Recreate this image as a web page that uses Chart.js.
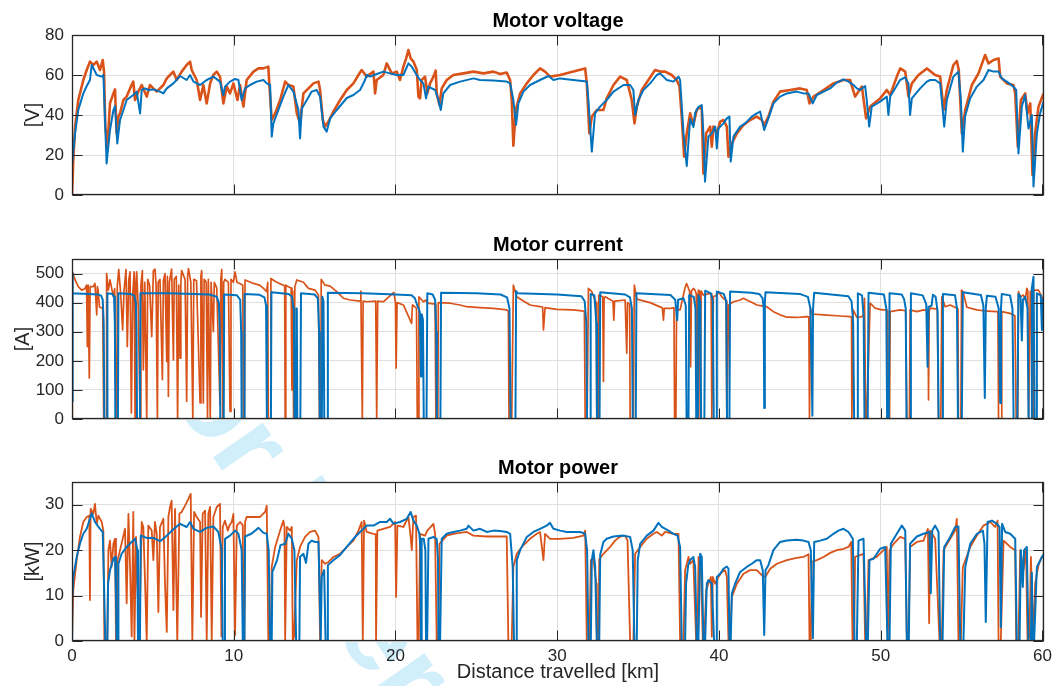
<!DOCTYPE html>
<html>
<head>
<meta charset="utf-8">
<script src="https://cdn.jsdelivr.net/npm/chart.js@4.4.0/dist/chart.umd.min.js"></script>
<style>
  html, body { margin: 0; background: #fff; }
  #wrap { position: relative; width: 1052px; height: 686px; overflow: hidden; }
  #wrap canvas { position: absolute; left: 0; top: 0; }
</style>
</head>
<body>
<div id="wrap">
  <canvas id="mark" width="1052" height="686"></canvas>
  <canvas id="voltage" width="1052" height="686"></canvas>
  <canvas id="current" width="1052" height="686"></canvas>
  <canvas id="power" width="1052" height="686"></canvas>
</div>
<script>
const FONT = "'Liberation Sans', Arial, Helvetica, sans-serif"
const INK = "#262626"
const GRID = "#dfdfdf"
const BLUE = "#0072BD"
const ORANGE = "#D95319"

const distanceTicks = [0, 10, 20, 30, 40, 50, 60]
const voltageTicks = [0, 20, 40, 60, 80]
const currentTicks = [0, 100, 200, 300, 400, 500]
const powerTicks = [0, 10, 20, 30]

// [distance km, value] pairs
const voltageModel = [[0,15],[0.19,30.8],[0.39,42.5],[0.70,50.8],[0.91,54.5],[1.11,57.5],[1.22,65],[1.53,60],[1.84,59.2],[1.94,60],
  [2.14,15.8],[2.35,32.5],[2.56,42.5],[2.66,44.5],[2.80,25.8],[2.97,37.5],[3.18,42.5],[3.38,47.5],[3.79,50],[4.00,51.7],
  [4.21,40.8],[4.31,52.5],[4.52,53.3],[4.72,52.5],[5.03,52.8],[5.44,51.7],[5.65,50.8],[5.86,53.3],[6.27,55.8],[6.68,59.5],
  [7.09,57.5],[7.30,60],[7.51,56.7],[7.92,55],[8.33,57.5],[8.74,59.2],[9.15,56.7],[9.36,50],[9.46,54.2],[9.77,56.7],
  [10.08,58],[10.29,57.5],[10.49,47.5],[10.70,53.3],[11.01,55],[11.42,56.7],[11.84,57.5],[12.04,55.8],[12.25,55],[12.35,29.2],
  [12.45,35.8],[12.76,42.5],[13.07,49.2],[13.38,55],[13.69,51.7],[14.00,42.5],[14.10,28.3],[14.21,43.3],[14.52,47.5],[14.82,51.7],
  [15.13,52.5],[15.34,49.2],[15.55,34.2],[15.75,31.7],[15.96,38.3],[16.37,42.5],[16.99,48.5],[17.40,50],[17.81,52.5],[18.12,57.5],
  [18.22,60],[18.43,59.2],[18.84,60.5],[19.25,61.7],[19.66,60.8],[20.08,60],[20.49,60],[20.80,65.8],[21.00,64.2],[21.31,60],
  [21.52,57.5],[21.73,55.8],[21.89,48.3],[22.03,54.2],[22.45,52.5],[22.66,47.5],[22.80,42.5],[22.96,50.8],[23.38,55],[24.00,56.7],
  [24.82,58.3],[25.23,57.5],[26.06,57.2],[26.88,56.7],[27.09,55.8],[27.29,47.5],[27.46,35],[27.60,45.8],[27.91,51.7],[28.32,55],
  [28.94,57.5],[29.46,59.5],[29.77,57.5],[30.18,58.3],[31.00,57.5],[31.83,56.7],[31.93,47.5],[32.14,21.7],[32.34,40.8],[32.65,44.2],
  [33.06,47.5],[33.48,51.7],[34.10,55],[34.51,55],[34.71,52.5],[34.82,40],[35.02,47.5],[35.33,52.5],[35.75,55.8],[36.16,60],
  [36.36,60.8],[36.78,57.5],[37.19,56.7],[37.50,59.2],[37.60,57.5],[37.81,30.8],[38.01,14.5],[38.22,38],[38.42,34],[38.53,41],
  [38.73,44],[38.94,45],[39.04,30.8],[39.14,6.7],[39.35,29.2],[39.56,30.8],[39.77,34.2],[39.87,23.3],[39.97,33.3],[40.28,35.8],
  [40.49,38.3],[40.65,39.2],[40.73,16.7],[40.90,29.2],[41.31,34.2],[41.62,35.8],[42.03,39.2],[42.34,40.8],[42.55,41.7],[42.80,32.5],
  [43.06,38.3],[43.37,45.8],[43.78,49.2],[44.20,50.8],[44.81,51.7],[45.23,50.8],[45.54,50.8],[45.80,45.8],[46.05,50],[46.47,51.7],
  [46.88,53.3],[47.29,56.2],[47.70,57.8],[48.01,56.7],[48.32,55],[48.53,53.3],[48.73,52.5],[49.04,54.5],[49.14,47.5],[49.29,34.2],
  [49.45,44.2],[49.97,46.7],[50.38,49.2],[50.48,40],[50.59,49.2],[50.89,53.3],[51.20,57.5],[51.51,58.8],[51.72,55.8],[51.82,40],
  [51.93,48.3],[52.44,53.3],[52.86,56.7],[53.06,57.5],[53.37,57.5],[53.68,55.8],[53.78,47.5],[53.93,34.2],[54.09,47.5],[54.50,59.2],
  [54.81,61.7],[54.96,47.5],[55.08,21.7],[55.22,39.2],[55.53,48.3],[55.95,54.2],[56.36,57.5],[56.67,62.5],[56.98,61.7],[57.29,61.7],
  [57.49,58.3],[57.80,56.7],[58.21,54.2],[58.38,52.5],[58.52,20.8],[58.73,44.2],[58.93,50],[59.14,33.3],[59.35,40],[59.45,4.2],
  [59.66,30.8],[59.86,40.8],[60.07,46.7]]

const voltageMeasured = [[0,0],[0.08,17.5],[0.19,34.2],[0.39,47.5],[0.70,57.5],[0.91,62.5],[1.11,66.7],[1.32,65],[1.53,66.7],[1.73,62.5],
  [1.90,67.5],[1.98,61.7],[2.06,34.2],[2.19,24.2],[2.35,45.8],[2.56,50.8],[2.66,52.8],[2.76,30.8],[2.87,39.2],[2.97,40.8],
  [3.18,47.5],[3.38,49.2],[3.59,53.3],[3.79,56.7],[3.90,47.5],[4.10,51.7],[4.31,55],[4.62,49.2],[4.82,55],[5.03,53.3],
  [5.24,51.7],[5.65,55],[5.86,58.3],[6.06,60],[6.27,61.7],[6.47,57.5],[6.78,61.7],[7.09,65],[7.30,66.7],[7.40,62.5],
  [7.71,57.5],[7.92,47.5],[8.12,55],[8.33,45.8],[8.54,55.8],[8.74,60],[8.95,61.7],[9.15,59.2],[9.36,45.8],[9.57,54.2],
  [9.77,50.8],[9.98,55.8],[10.23,47.5],[10.39,55],[10.60,44.2],[10.80,57.5],[11.22,61.7],[11.53,63.3],[11.84,63.3],[12.14,64.2],
  [12.21,54.2],[12.35,37.5],[12.56,40.8],[12.87,47.5],[13.18,56.7],[13.38,55],[13.69,54.2],[13.90,40.8],[14.10,35.8],[14.31,50.8],
  [14.62,53.3],[14.93,55.8],[15.24,56.7],[15.34,52.5],[15.51,37.5],[15.65,34.2],[15.86,36.7],[16.16,41.7],[16.58,47.5],[16.99,52.5],
  [17.40,55.8],[17.71,60],[17.91,62.5],[18.22,59.2],[18.64,61.7],[18.74,50.8],[18.84,57.5],[19.25,60],[19.46,65.8],[19.77,60.8],
  [20.08,61.7],[20.28,57.5],[20.49,64.2],[20.66,68.3],[20.80,72.5],[20.94,68.3],[21.11,66.7],[21.32,62.5],[21.42,49.2],[21.52,48.3],
  [21.62,57.5],[21.83,59.2],[21.97,50.8],[22.14,55.8],[22.35,59.2],[22.49,62.2],[22.55,50.8],[22.72,45],[22.86,53.3],[23.17,57.5],
  [23.58,60],[24.20,60.8],[24.82,61.7],[25.44,60.8],[26.06,61.7],[26.47,60.5],[26.88,61.2],[27.09,57.5],[27.19,47.5],[27.29,24.7],
  [27.44,42.5],[27.71,50.8],[28.12,55.8],[28.53,60],[28.94,63.3],[29.25,61.7],[29.56,59.2],[30.18,60],[31.00,61.7],[31.73,63.3],
  [31.83,55.8],[31.99,30.8],[32.14,39.2],[32.45,42.5],[32.86,42.5],[33.06,48.3],[33.48,55],[33.89,59.2],[34.30,57.5],[34.61,47.5],
  [34.78,35.8],[34.92,44.2],[35.23,52.5],[35.64,57.5],[36.05,62.5],[36.36,61.7],[36.67,61.7],[37.08,60],[37.39,57.5],[37.56,54.2],
  [37.70,39.2],[37.85,19.2],[38.01,30.8],[38.22,40.8],[38.42,35],[38.63,42.5],[38.84,44.2],[38.94,42.5],[39.04,10.8],[39.21,30.8],
  [39.46,34.2],[39.56,24.2],[39.66,34.2],[39.87,30.8],[40.08,36.7],[40.28,37.5],[40.49,34.2],[40.59,19.2],[40.80,25.8],[41.11,30.8],
  [41.52,35],[41.93,37.5],[42.34,39.2],[42.65,37.5],[42.80,35],[43.06,39.2],[43.37,46.7],[43.78,51.7],[44.40,52.5],[45.02,53.3],
  [45.43,52.5],[45.60,45.8],[45.85,49.2],[46.47,52.5],[47.08,55.8],[47.70,57.5],[48.11,57.5],[48.42,49.2],[48.63,51.7],[48.84,54.2],
  [49.10,38.3],[49.35,44.2],[49.97,48.3],[50.38,52.5],[50.59,50],[51.00,59.2],[51.21,63.3],[51.52,61.7],[51.72,49.2],[51.93,55.8],
  [52.34,60],[52.86,63.3],[53.37,60],[53.68,59.2],[53.89,42.5],[54.09,52.5],[54.50,65],[54.71,67],[54.83,62.5],[55.02,30.8],
  [55.23,42.5],[55.64,55],[56.05,60.8],[56.46,70],[56.67,65.8],[56.98,67.5],[57.29,68.3],[57.39,59.2],[57.80,55.8],[58.21,55],
  [58.32,50.8],[58.48,24.2],[58.67,47.5],[58.94,50.8],[59.08,40.8],[59.25,45.8],[59.39,10],[59.55,30.8],[59.76,44.2],[60.07,50.8]]

const currentModel = [[0,60],[0.02,500],[0.06,432],[1.0,430],[1.6,428],[1.8,424],[1.9,410],[1.96,330],[2.0,0],[2.17,0],
  [2.19,432],[2.5,430],[2.6,420],[2.65,330],[2.68,0],[2.84,0],[2.87,432],[3.6,430],[3.85,424],[3.95,400],
  [3.99,300],[4.02,0],[4.2,0],[4.23,432],[6.0,432],[8.5,428],[8.95,420],[9.08,400],[9.14,300],[9.17,0],
  [9.38,0],[9.41,428],[10.2,425],[10.4,410],[10.46,300],[10.49,0],[10.64,0],[10.67,430],[11.6,427],[11.9,418],
  [12.0,390],[12.05,0],[12.3,0],[12.33,436],[13.4,430],[13.6,420],[13.68,385],[13.72,375],[13.76,0],[13.84,0],
  [13.87,380],[13.9,375],[13.93,0],[14.12,0],[14.16,432],[15.0,428],[15.2,415],[15.28,300],[15.32,0],[15.45,0],
  [15.48,420],[15.55,405],[15.6,0],[15.78,0],[15.82,434],[18.0,432],[20.0,428],[21.0,425],[21.2,415],[21.35,390],
  [21.5,370],[21.58,146],[21.62,360],[21.7,340],[21.75,0],[21.92,0],[21.97,432],[22.3,428],[22.45,410],[22.52,300],
  [22.56,0],[22.78,0],[22.82,434],[25.0,432],[26.5,428],[26.9,418],[27.05,380],[27.12,0],[27.42,0],[27.46,440],
  [27.55,432],[30.0,428],[31.5,422],[31.7,405],[31.8,330],[31.85,0],[32.03,0],[32.07,430],[32.3,425],[32.42,330],
  [32.46,0],[32.62,0],[32.66,436],[34.2,428],[34.5,418],[34.62,380],[34.67,0],[34.86,0],[34.9,432],[37.0,426],
  [37.3,410],[37.42,340],[37.48,410],[37.81,415],[37.95,390],[38.0,0],[38.12,0],[38.16,426],[38.45,420],[38.55,380],
  [38.6,0],[38.7,0],[38.74,425],[38.85,400],[38.9,0],[39.1,0],[39.15,441],[39.5,432],[39.62,405],[39.68,0],
  [39.83,0],[39.87,438],[40.3,430],[40.45,405],[40.5,0],[40.65,0],[40.69,438],[42.0,434],[42.5,430],[42.7,415],
  [42.77,380],[42.8,38],[42.84,400],[42.88,436],[45.0,430],[45.5,420],[45.66,380],[45.78,11],[45.82,380],[45.89,434],
  [48.0,422],[48.2,405],[48.3,330],[48.36,0],[48.55,0],[48.59,432],[48.85,425],[48.95,350],[49.0,0],[49.2,0],
  [49.25,434],[50.2,428],[50.35,380],[50.4,0],[50.5,0],[50.55,432],[51.3,428],[51.45,412],[51.55,380],[51.6,0],
  [51.82,0],[51.87,432],[52.6,425],[52.82,395],[52.9,180],[52.96,385],[53.15,390],[53.23,427],[53.4,420],[53.52,370],
  [53.58,0],[53.8,0],[53.85,430],[54.6,425],[54.72,380],[54.78,0],[55.02,0],[55.08,436],[56.2,426],[56.35,390],
  [56.44,72],[56.5,380],[56.57,424],[57.1,420],[57.3,380],[57.39,55],[57.44,380],[57.49,430],[58.0,425],[58.15,380],
  [58.22,0],[58.45,0],[58.52,430],[58.65,420],[58.73,270],[58.8,410],[58.94,420],[59.08,380],[59.15,0],[59.3,0],
  [59.35,450],[59.45,489],[59.52,0],[59.62,0],[59.66,432],[59.9,425],[59.97,306],[60.03,410],[60.1,420]]

const currentMeasured = [[0,0],[0.02,506],[0.19,478],[0.39,455],[0.6,443],[0.8,448],[0.9,460],[0.95,249],[1.0,460],[1.07,141],
  [1.12,455],[1.32,455],[1.42,466],[1.53,358],[1.57,455],[1.62,440],[1.7,385],[1.9,380],[1.96,0],[2.12,0],
  [2.14,500],[2.25,443],[2.35,478],[2.56,420],[2.64,448],[2.72,0],[2.78,0],[2.8,457],[2.89,514],[3.01,432],
  [3.13,306],[3.22,443],[3.34,514],[3.42,249],[3.51,478],[3.59,506],[3.67,21],[3.75,420],[3.84,506],[3.9,0],
  [3.95,470],[4.0,506],[4.1,380],[4.21,0],[4.26,460],[4.35,510],[4.41,169],[4.5,470],[4.62,0],[4.68,480],
  [4.8,460],[4.93,283],[5.03,510],[5.13,515],[5.2,460],[5.28,0],[5.33,470],[5.44,480],[5.59,135],[5.65,475],
  [5.75,500],[5.86,198],[5.9,490],[5.96,78],[6.02,470],[6.16,515],[6.27,203],[6.32,480],[6.45,490],[6.53,0],
  [6.6,460],[6.68,209],[6.73,470],[6.78,510],[6.99,480],[7.09,61],[7.15,490],[7.2,517],[7.35,470],[7.47,0],
  [7.53,480],[7.7,475],[7.92,55],[7.97,490],[8.02,510],[8.12,55],[8.17,480],[8.3,470],[8.38,0],[8.43,480],
  [8.55,0],[8.6,470],[8.74,300],[8.8,470],[8.95,450],[9.15,49],[9.2,480],[9.26,514],[9.32,0],[9.38,470],
  [9.46,480],[9.67,470],[9.77,26],[9.83,480],[9.98,470],[10.08,506],[10.2,470],[10.4,465],[10.56,460],[10.6,0],
  [10.66,0],[10.7,478],[11.22,466],[11.6,460],[11.84,449],[12.04,438],[12.1,470],[12.14,0],[12.28,0],[12.3,483],
  [12.6,472],[13.07,460],[13.15,458],[13.18,0],[13.22,460],[13.38,455],[13.55,450],[13.6,100],[13.65,440],[13.7,0],
  [13.78,455],[13.9,478],[14.31,470],[14.62,449],[15.03,443],[15.24,426],[15.3,0],[15.38,0],[15.41,480],[15.65,460],
  [15.96,457],[16.37,438],[16.78,415],[17.2,409],[17.81,405],[17.86,440],[17.95,0],[18.0,405],[18.22,403],[18.78,405],
  [18.84,0],[18.9,405],[19.25,403],[19.9,435],[20.0,400],[20.04,175],[20.1,400],[20.49,392],[21.0,329],[21.05,392],
  [21.2,386],[21.3,380],[21.35,0],[21.42,0],[21.45,420],[21.73,403],[21.89,409],[22.0,398],[22.45,395],[22.5,0],
  [22.62,0],[22.65,400],[23.38,398],[23.99,392],[24.41,386],[25.23,383],[26.06,380],[26.88,375],[26.98,370],[27.02,0],
  [27.19,0],[27.29,460],[27.5,420],[27.81,409],[28.32,392],[28.94,386],[29.1,385],[29.15,306],[29.25,383],[29.97,377],
  [31.0,375],[31.52,372],[31.68,370],[31.73,0],[31.85,0],[31.93,449],[32.14,438],[32.34,409],[32.42,400],[32.45,0],
  [32.55,0],[32.57,426],[32.82,420],[32.86,129],[32.9,415],[32.97,420],[33.45,405],[33.5,340],[33.55,405],[34.2,409],
  [34.3,226],[34.35,400],[34.48,395],[34.51,0],[34.71,0],[34.77,460],[34.92,412],[35.74,400],[36.5,382],[36.57,340],
  [36.62,380],[36.98,380],[37.22,383],[37.26,0],[37.34,0],[37.38,375],[37.6,375],[37.9,450],[38.0,466],[38.18,440],
  [38.22,420],[38.25,180],[38.3,440],[38.42,449],[38.53,443],[38.6,430],[38.63,0],[38.7,0],[38.73,443],[38.8,440],
  [38.84,0],[38.9,440],[39.04,426],[39.46,432],[39.52,430],[39.56,0],[39.66,420],[39.87,426],[39.97,438],[40.18,420],
  [40.38,409],[40.45,405],[40.49,0],[40.6,392],[40.9,403],[41.31,409],[41.52,415],[41.72,409],[42.14,398],[42.34,392],
  [42.65,389],[42.96,386],[43.37,369],[43.78,358],[44.2,350],[44.81,349],[45.43,352],[45.56,350],[45.6,0],[45.66,380],
  [45.74,361],[46.47,358],[47.5,354],[48.11,352],[48.2,350],[48.22,0],[48.3,375],[48.53,349],[48.84,352],[48.94,358],
  [49.0,415],[49.08,0],[49.14,0],[49.35,398],[49.66,381],[50.07,375],[50.38,375],[50.42,372],[50.44,0],[50.55,0],
  [50.59,369],[51.2,375],[51.55,372],[51.62,0],[51.78,0],[51.82,375],[52.24,369],[52.65,375],[52.93,372],[52.96,66],
  [53.0,370],[53.06,381],[53.5,378],[53.58,0],[53.72,0],[53.78,420],[53.99,386],[54.3,392],[54.71,381],[54.78,378],
  [54.81,0],[54.96,0],[55.0,443],[55.1,437],[55.33,384],[55.95,375],[56.36,372],[57.18,369],[57.25,368],[57.29,0],
  [57.45,0],[57.49,369],[58.0,363],[58.2,358],[58.3,355],[58.38,0],[58.48,0],[58.52,438],[58.63,420],[58.83,426],
  [58.94,409],[59.04,449],[59.1,440],[59.15,0],[59.25,438],[59.32,440],[59.35,0],[59.42,0],[59.45,443],[59.76,443],
  [59.97,420],[60.1,405]]

const powerModel = [[0,0],[0.01,9],[0.08,14.1],[0.29,18.5],[0.49,21.4],[0.70,23.6],[0.91,24.7],[1.11,26.9],[1.22,28.1],[1.42,26.2],
  [1.73,24.7],[1.9,24.0],[1.98,12.6],[2.06,0],[2.19,0],[2.23,12.6],[2.35,15.6],[2.56,18.1],[2.66,18.5],[2.72,10],
  [2.76,0],[2.85,0],[2.87,17.0],[3.07,19.2],[3.38,20.7],[3.69,21.8],[3.9,22.5],[4.04,20.0],[4.08,0],[4.2,0],
  [4.25,23.2],[4.62,22.7],[5.03,22.7],[5.44,22.0],[5.65,22.5],[5.86,23.2],[6.27,24.6],[6.68,25.8],[7.09,25.1],[7.3,26.2],
  [7.51,24.7],[7.92,24.0],[8.33,24.9],[8.74,25.2],[9.05,24.0],[9.26,20.0],[9.32,0],[9.42,0],[9.46,22.5],[9.77,23.2],
  [10.08,24.3],[10.29,23.6],[10.49,20.0],[10.56,0],[10.66,0],[10.7,23.0],[11.09,23.6],[11.53,24.9],[11.84,23.8],[12.04,23.6],
  [12.16,20.0],[12.25,0],[12.35,0],[12.39,15.2],[12.68,17.8],[12.89,21.1],[13.18,21.4],[13.38,23.6],[13.59,22.5],[13.75,20.0],
  [13.86,0],[14.06,0],[14.1,18.5],[14.31,19.2],[14.47,17.2],[14.62,21.4],[14.82,22.1],[15.03,21.8],[15.24,21.8],[15.3,12.6],
  [15.38,0],[15.44,14.1],[15.59,15.6],[15.68,0],[15.79,0],[15.82,16.7],[16.16,17.8],[16.57,18.9],[16.99,20.7],[17.40,22.5],
  [17.81,24.0],[18.22,25.4],[18.64,25.4],[19.05,26.2],[19.46,26.2],[19.67,26.9],[19.87,25.8],[20.28,26.2],[20.7,26.9],[20.94,28.4],
  [21.11,26.5],[21.32,25.4],[21.48,23.6],[21.55,20],[21.58,0],[21.62,22.5],[21.75,22.5],[21.85,20],[21.89,0],[21.96,0],
  [22.04,22.5],[22.35,22.9],[22.55,22.5],[22.63,18],[22.66,0],[22.76,0],[22.86,22.5],[23.17,23.6],[23.58,24.0],[23.99,24.3],
  [24.41,24.7],[24.51,25.4],[24.82,24.3],[25.23,24.7],[25.64,24.0],[26.06,24.3],[26.47,24.2],[26.88,24.0],[27.09,23.6],[27.25,16.3],
  [27.33,0],[27.46,0],[27.5,17.8],[27.71,20.0],[28.12,22.9],[28.53,24.0],[28.94,24.7],[29.35,25.4],[29.56,26.0],[29.77,24.7],
  [30.18,24.3],[30.59,24.0],[31.0,24.0],[31.42,24.0],[31.73,23.6],[31.85,20],[31.93,0],[32.08,0],[32.14,17.8],[32.24,20.0],
  [32.35,16.3],[32.45,0],[32.6,0],[32.66,19],[32.86,21.8],[33.06,22.5],[33.48,23.0],[34.1,23.2],[34.51,22.9],[34.67,20.0],
  [34.77,0],[34.92,0],[34.98,17.8],[35.13,21.4],[35.54,23.2],[35.95,24.3],[36.26,26.0],[36.47,25.1],[36.88,24.3],[37.19,23.6],
  [37.44,23.2],[37.6,20.7],[37.7,0],[37.91,0],[37.97,12.6],[38.1,16.7],[38.22,17.8],[38.42,18.5],[38.53,16.3],[38.63,0],
  [38.73,0],[38.84,19.2],[38.94,18.5],[39.04,0],[39.15,0],[39.25,12.6],[39.35,13.4],[39.46,13.0],[39.56,12.6],[39.7,0],
  [39.83,0],[39.87,14.1],[40.08,14.8],[40.28,15.9],[40.49,16.4],[40.59,15.9],[40.65,0],[40.73,0],[40.8,10.5],[41.0,12.6],
  [41.31,15.2],[41.72,16.3],[42.03,17.0],[42.34,17.8],[42.55,17.8],[42.71,15.6],[42.8,1.3],[42.88,15.6],[43.06,16.7],[43.37,20.0],
  [43.78,21.8],[44.2,22.1],[44.81,22.3],[45.23,22.1],[45.54,21.8],[45.68,20.0],[45.81,0.6],[45.89,21.8],[46.26,22.1],[46.67,22.5],
  [47.08,23.6],[47.39,24.3],[47.7,24.7],[48.01,24.0],[48.28,22.5],[48.38,0],[48.53,0],[48.63,22.1],[48.94,22.5],[49.1,0],
  [49.21,0],[49.31,17.8],[49.56,18.1],[49.97,20.3],[50.28,20.7],[50.42,0],[50.55,0],[50.63,21.4],[51.0,23.6],[51.31,25.4],
  [51.52,24.3],[51.62,0],[51.74,0],[51.82,21.4],[52.24,23.0],[52.65,23.6],[53.02,24.0],[53.1,10.5],[53.19,24.3],[53.37,25.4],
  [53.58,24.0],[53.68,0],[53.83,0],[53.93,20.7],[54.3,22.9],[54.61,25.1],[54.81,25.2],[54.92,0],[55.12,0],[55.23,16.3],
  [55.54,21.4],[55.95,23.6],[56.32,24.3],[56.42,21.4],[56.5,4.2],[56.61,26.2],[56.88,26.5],[57.19,25.8],[57.35,25.1],[57.43,3.1],
  [57.51,25.8],[57.7,24.0],[58.01,23.6],[58.32,22.5],[58.42,0],[58.59,0],[58.67,20.0],[58.79,11.9],[58.87,20.0],[59.04,20.7],
  [59.14,0],[59.29,0],[59.35,15],[59.4,0.5],[59.49,0],[59.66,16.3],[59.97,18.5],[60.1,19.2]]

const powerMeasured = [[0,0],[0.08,11.2],[0.29,17.8],[0.49,22.9],[0.70,26.2],[0.91,27.3],[1.07,27.6],[1.11,9.0],[1.15,29.1],[1.32,28.0],
  [1.42,30.2],[1.53,25.8],[1.63,27.6],[1.73,26.9],[1.84,26.2],[1.94,24.3],[2.0,0],[2.18,0],[2.25,20.0],[2.35,22.1],
  [2.45,16.3],[2.56,21.4],[2.66,22.5],[2.72,0],[2.78,0],[2.82,17.8],[2.97,20.0],[3.28,24.7],[3.38,8.3],[3.49,28.0],
  [3.59,16.3],[3.69,1.0],[3.79,28.4],[3.86,0],[3.96,22.9],[4.04,12.6],[4.16,0],[4.31,26.2],[4.41,25.1],[4.52,12.6],
  [4.62,0],[4.72,25.4],[4.93,24.3],[5.03,17.8],[5.13,26.2],[5.24,23.6],[5.34,6.4],[5.44,25.1],[5.65,26.9],[5.75,12.6],
  [5.86,2.0],[5.96,27.3],[6.06,29.5],[6.16,30.9],[6.27,6.8],[6.37,29.1],[6.51,0],[6.64,28.0],[6.78,28.4],[6.99,29.8],
  [7.2,31.3],[7.34,32.4],[7.44,0],[7.55,28.4],[7.71,27.3],[7.92,26.2],[7.98,5.3],[8.08,28.0],[8.23,28.7],[8.33,0],
  [8.43,28.0],[8.54,29.5],[8.64,0],[8.74,27.3],[8.95,29.5],[9.15,30.2],[9.24,1.0],[9.32,25.1],[9.46,26.5],[9.63,24.3],
  [9.73,25.4],[9.88,26.2],[9.98,28.0],[10.08,1.3],[10.19,25.4],[10.39,26.2],[10.56,25.5],[10.6,0],[10.66,0],[10.7,26.2],
  [10.8,27.3],[11.22,27.3],[11.63,27.3],[11.94,28.4],[12.04,29.8],[12.14,0],[12.29,0],[12.35,16.3],[12.56,20.7],[12.87,24.3],
  [13.07,26.5],[13.14,25],[13.18,0],[13.28,25.1],[13.49,24.3],[13.59,25.1],[13.65,0],[13.73,0.95],[13.81,9.0],[13.9,17.8],
  [14.1,20.7],[14.41,22.9],[14.72,24.0],[15.03,24.3],[15.24,22.9],[15.34,0],[15.44,17.8],[15.65,17.0],[15.86,17.4],[16.16,18.5],
  [16.57,19.2],[16.99,20.7],[17.4,22.1],[17.71,24.3],[17.91,26.2],[17.98,0],[18.06,26.5],[18.22,24.0],[18.64,23.6],[18.78,23.5],
  [18.8,0],[18.88,24.3],[19.25,24.7],[19.67,25.1],[19.98,26.2],[20.04,9.7],[20.12,25.4],[20.49,25.1],[20.8,27.3],[20.94,22.9],
  [21.01,20.0],[21.11,27.3],[21.27,27.6],[21.36,0],[21.44,0],[21.52,23.6],[21.83,23.2],[21.97,24.3],[22.35,25.8],[22.45,23.6],
  [22.55,0],[22.66,0],[22.72,21.4],[23.17,23.2],[23.58,23.6],[23.99,23.8],[24.41,24.0],[24.82,23.2],[25.64,23.0],[26.47,23.0],
  [26.88,23.0],[26.98,0],[27.19,0],[27.29,16.3],[27.5,19.2],[27.81,20.7],[28.32,22.5],[28.74,23.6],[28.94,24.0],[29.15,17.8],
  [29.25,23.6],[29.56,22.5],[30.18,22.5],[31.0,22.7],[31.62,23.2],[31.73,24.3],[31.83,0],[31.99,0],[32.08,17.8],[32.24,18.1],
  [32.42,12.6],[32.45,0],[32.55,0],[32.6,18],[32.86,19.2],[33.27,20.7],[33.58,22.1],[33.89,23.0],[34.2,23.2],[34.35,22.1],
  [34.51,0],[34.71,0],[34.82,19.2],[35.13,20.7],[35.54,22.5],[35.95,23.6],[36.16,24.0],[36.47,23.2],[36.67,24.0],[37.19,23.6],
  [37.5,23.6],[37.6,0],[37.81,0],[37.91,15.6],[38.12,18.5],[38.22,17.0],[38.42,17.8],[38.59,0],[38.67,0],[38.74,18.5],
  [38.88,17.8],[39.0,0],[39.09,0],[39.21,11.2],[39.35,12.6],[39.5,14.1],[39.56,0.95],[39.62,14.1],[39.77,12.6],[39.97,14.1],
  [40.18,15.2],[40.38,15.6],[40.49,14.1],[40.59,0],[40.69,0],[40.8,9.7],[41.11,12.6],[41.52,14.8],[41.93,15.6],[42.34,15.6],
  [42.65,14.5],[42.86,14.1],[43.17,15.9],[43.58,17.0],[44.2,17.8],[44.81,18.3],[45.23,18.5],[45.54,19.1],[45.6,0],[45.68,0],
  [45.74,17.4],[46.05,17.8],[46.47,18.5],[46.88,19.4],[47.29,20.0],[47.7,20.3],[48.01,20.7],[48.18,21.8],[48.26,0],[48.36,0],
  [48.42,18.5],[48.73,18.9],[48.94,19.2],[49.04,0],[49.14,0],[49.25,17.8],[49.76,18.5],[50.18,20.0],[50.38,20.7],[50.44,0],
  [50.55,20.0],[50.8,21.4],[51.21,22.9],[51.52,22.5],[51.62,0],[51.72,0],[51.82,20.7],[52.24,21.8],[52.65,22.1],[52.92,24.7],
  [53.0,3.9],[53.06,24.3],[53.37,22.5],[53.64,0],[53.78,0],[53.89,20.0],[54.3,22.5],[54.61,24.3],[54.71,26.9],[54.81,0],
  [54.96,0],[55.08,16.3],[55.54,20.7],[55.95,23.2],[56.36,25.4],[56.77,26.2],[57.08,25.1],[57.23,26.5],[57.29,0],[57.43,0],
  [57.6,22.1],[58.01,20.7],[58.32,20.0],[58.38,0],[58.52,0],[58.63,20.0],[58.83,15.6],[58.99,20.0],[59.08,0],[59.2,0.95],
  [59.29,18.5],[59.45,0],[59.55,12.6],[59.76,16.7],[59.97,18.5],[60.1,18.9]]

const W = 1052
const H = 686
const X_MAX = 60.1

const toPoints = (pairs) => pairs.map(([x, y]) => ({ x, y }))

// white plot box, dark frame with inward ticks, bold panel title
const panelFrame = {
  id: "panelFrame",
  beforeDraw(chart) {
    const { ctx, chartArea: a } = chart
    ctx.save()
    ctx.fillStyle = "#fff"
    ctx.fillRect(a.left, a.top, a.right - a.left, a.bottom - a.top)
    ctx.restore()
  },
  afterDraw(chart, args, opts) {
    const { ctx, chartArea: a, scales } = chart
    const L = Math.round(a.left) + 0.5
    const R = Math.round(a.right) - 0.5
    const T = Math.round(a.top) + 0.5
    const B = Math.round(a.bottom) - 0.5
    ctx.save()
    ctx.strokeStyle = INK
    ctx.lineWidth = 1
    ctx.beginPath()
    for (const t of scales.x.ticks) {
      const px = Math.round(scales.x.getPixelForValue(t.value)) + 0.5
      ctx.moveTo(px, T); ctx.lineTo(px, T + 10)
      ctx.moveTo(px, B); ctx.lineTo(px, B - 10)
    }
    for (const t of scales.y.ticks) {
      const py = Math.round(scales.y.getPixelForValue(t.value)) + 0.5
      ctx.moveTo(L, py); ctx.lineTo(L + 10, py)
      ctx.moveTo(R, py); ctx.lineTo(R - 10, py)
    }
    ctx.stroke()
    ctx.lineWidth = 1.3
    ctx.strokeRect(L, T, R - L, B - T)
    ctx.fillStyle = "#000"
    ctx.font = `bold 20px ${FONT}`
    ctx.textAlign = "center"
    ctx.textBaseline = "alphabetic"
    ctx.fillText(opts.text, (a.left + a.right) / 2, a.top - 8)
    ctx.restore()
  },
}

function makePanel(id, cfg) {
  const bottomAxis = Boolean(cfg.xTitle)
  const xHeight = bottomAxis ? H - cfg.bottom : 0
  return new Chart(document.getElementById(id), {
    type: "line",
    data: {
      datasets: [
        { label: "model", data: toPoints(cfg.model), borderColor: BLUE, borderWidth: 2 },
        { label: "measured", data: toPoints(cfg.measured), borderColor: ORANGE, borderWidth: cfg.measuredWidth || 1.7 },
      ],
    },
    options: {
      responsive: false,
      animation: false,
      events: [],
      parsing: false,
      elements: { point: { radius: 0 }, line: { tension: 0, borderJoinStyle: "round" } },
      layout: { padding: { top: cfg.top, bottom: H - cfg.bottom - xHeight, left: 0, right: W - 1044 } },
      plugins: {
        legend: { display: false },
        tooltip: { enabled: false },
        panelFrame: { text: cfg.title },
      },
      scales: {
        x: {
          type: "linear",
          min: 0,
          max: X_MAX,
          afterBuildTicks: (s) => { s.ticks = distanceTicks.map((value) => ({ value })) },
          afterFit: (s) => { s.height = xHeight; s.paddingLeft = 0; s.paddingRight = 0 },
          grid: { color: GRID, lineWidth: 1, drawTicks: false },
          border: { display: false },
          ticks: {
            display: bottomAxis,
            color: INK,
            font: { family: FONT, size: 17 },
            padding: 5,
            maxRotation: 0,
          },
          title: {
            display: bottomAxis,
            text: cfg.xTitle || "",
            color: INK,
            font: { family: FONT, size: 20 },
            padding: { top: 0, bottom: 2 },
          },
        },
        y: {
          type: "linear",
          min: 0,
          max: cfg.yMax,
          afterBuildTicks: (s) => { s.ticks = cfg.yTicks.map((value) => ({ value })) },
          afterFit: (s) => { s.width = 72; s.paddingTop = 0; s.paddingBottom = 0 },
          grid: { color: GRID, lineWidth: 1, drawTicks: false },
          border: { display: false },
          ticks: { color: INK, font: { family: FONT, size: 17 }, padding: 8 },
          title: {
            display: true,
            text: cfg.unit,
            color: INK,
            font: { family: FONT, size: 20 },
            padding: { top: cfg.unitPad, bottom: 0 },
          },
        },
      },
    },
    plugins: [panelFrame],
  })
}

// faint diagonal review stamp behind the axes
const mark = document.getElementById("mark").getContext("2d")
mark.save()
mark.translate(128, 336)
mark.rotate((55 * Math.PI) / 180)
mark.font = `bold 115px ${FONT}`
mark.fillStyle = "rgb(209, 238, 251)"
mark.fillText("For Peer Review", 0, 0)
mark.restore()

makePanel("voltage", {
  title: "Motor voltage", unit: "[V]", unitPad: 21,
  top: 35, bottom: 195, yMax: 80, yTicks: voltageTicks,
  model: voltageModel, measured: voltageMeasured, measuredWidth: 2.6,
})
makePanel("current", {
  title: "Motor current", unit: "[A]", unitPad: 11,
  top: 259, bottom: 419, yMax: 550, yTicks: currentTicks,
  model: currentModel, measured: currentMeasured,
})
makePanel("power", {
  title: "Motor power", unit: "[kW]", unitPad: 21,
  top: 482, bottom: 641, yMax: 35, yTicks: powerTicks,
  model: powerModel, measured: powerMeasured, measuredWidth: 1.8, xTitle: "Distance travelled [km]",
})
</script>
</body>
</html>
